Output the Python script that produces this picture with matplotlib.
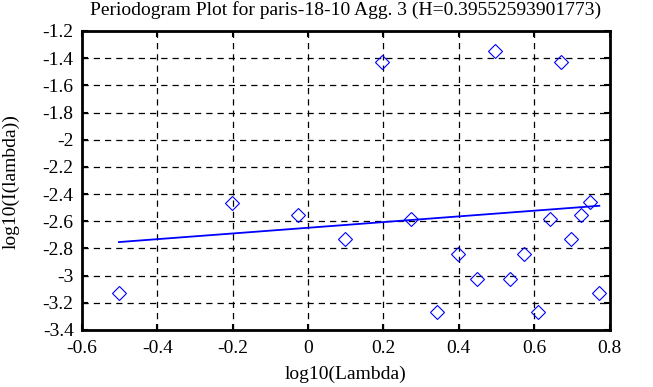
import numpy as np
import matplotlib
matplotlib.use("Agg")
from matplotlib import pyplot as plt
from matplotlib.ticker import FuncFormatter

plt.rcParams["font.family"] = ["Liberation Serif", "DejaVu Serif"]
plt.rcParams["axes.unicode_minus"] = False

# periodogram points (log10 lambda, log10 I(lambda))
log_lambda = [-0.502, -0.203, -0.027, 0.098, 0.195, 0.273, 0.341, 0.398, 0.449,
              0.495, 0.536, 0.574, 0.609, 0.641, 0.670, 0.699, 0.724, 0.749, 0.773]
log_I = [-3.126, -2.463, -2.554, -2.733, -1.426, -2.581, -3.266, -2.839, -3.023,
         -1.345, -3.023, -2.839, -3.266, -2.586, -1.426, -2.733, -2.551, -2.461, -3.128]

# fitted line end points
fit_x = [-0.502, 0.773]
fit_y = [-2.753, -2.486]

xticks = [-0.6, -0.4, -0.2, 0, 0.2, 0.4, 0.6, 0.8]
yticks = [-3.4, -3.2, -3.0, -2.8, -2.6, -2.4, -2.2, -2.0, -1.8, -1.6, -1.4, -1.2]

fig = plt.figure(figsize=(6.53, 3.87), dpi=100)
ax = fig.add_axes([0.1256, 0.1473, 0.8078, 0.7726])

ax.plot(log_lambda, log_I, "D", color="blue", mfc="none", ms=7, mew=0.8)
ax.plot(fit_x, fit_y, color="blue", lw=1.3)

ax.set_xlim(-0.6, 0.8)
ax.set_ylim(-3.4, -1.2)
ax.set_xticks(xticks)
ax.set_yticks(yticks)
fmt = FuncFormatter(lambda v, p: "%g" % round(v, 2))
ax.xaxis.set_major_formatter(fmt)
ax.yaxis.set_major_formatter(fmt)

ax.grid(True, color="black", linestyle=(0, (5, 4)), lw=0.9)
ax.tick_params(direction="in", length=4, width=1.5, top=True, right=True,
               labelsize=14)
ax.tick_params(axis="x", pad=7)
ax.tick_params(axis="y", pad=6)
for s in ax.spines.values():
    s.set_linewidth(2)

fig.text(346 / 653, 1 - 10 / 387,
         "Periodogram Plot for paris-18-10 Agg. 3 (H=0.39552593901773)",
         fontsize=14, ha="center", va="center")
fig.text(346 / 653, 1 - 374 / 387, "log10(Lambda)", fontsize=14,
         ha="center", va="center")
fig.text(11 / 653, 1 - 182 / 387, "log10(I(lambda))", fontsize=14,
         ha="center", va="center", rotation=90)

fig.savefig("out.png", dpi=100)
